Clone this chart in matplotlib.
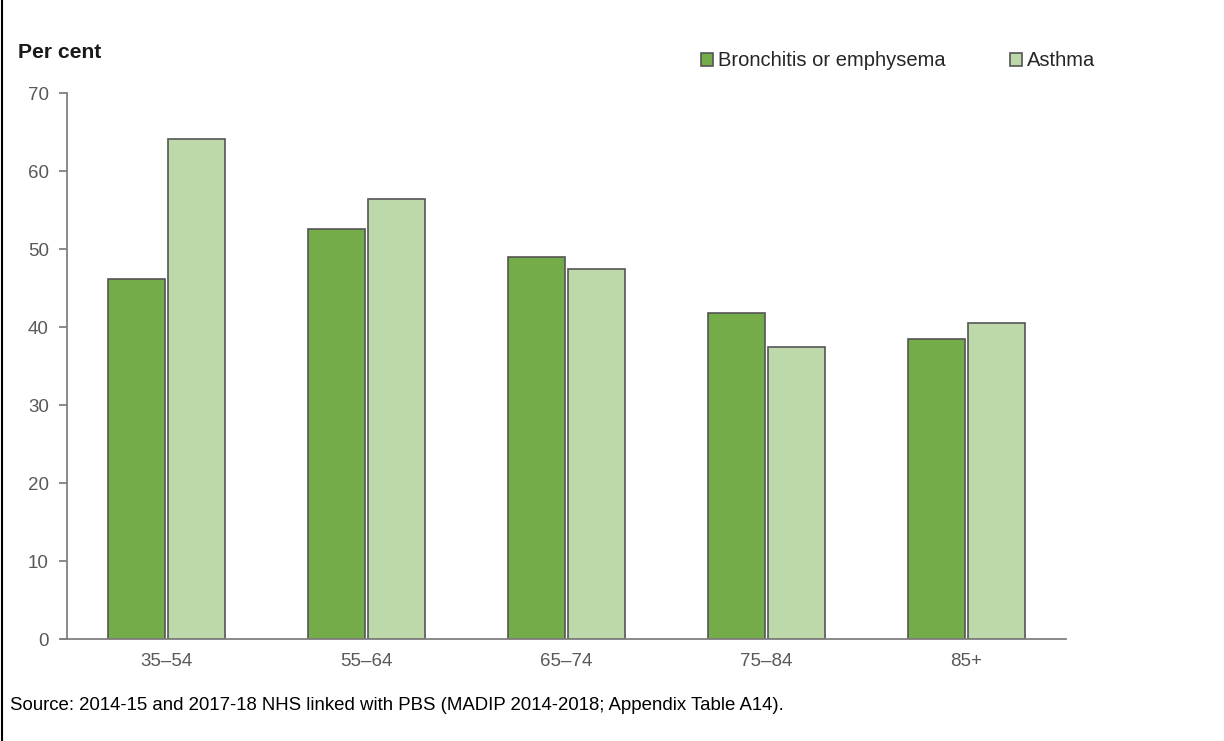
import matplotlib
matplotlib.use("Agg")
import matplotlib.pyplot as plt
from matplotlib.lines import Line2D
import numpy as np

plt.rcParams['font.family'] = ['Liberation Sans', 'DejaVu Sans']

categories = ["35–54", "55–64", "65–74", "75–84", "85+"]
series_names = ["Bronchitis or emphysema", "Asthma"]
bronchitis = [46.2, 52.6, 49.0, 41.8, 38.5]
asthma = [64.1, 56.4, 47.4, 37.4, 40.5]
yticks = [0, 10, 20, 30, 40, 50, 60, 70]
source_text = "Source: 2014-15 and 2017-18 NHS linked with PBS (MADIP 2014-2018; Appendix Table A14)."

dark = "#74AC4A"
light = "#BDD9A9"
edge = "#555555"
tick_color = "#595959"

fig = plt.figure(figsize=(12.24, 7.41), dpi=100)
ax = fig.add_axes([67/1224, 1-639/741, (1066-67)/1224, (639-93)/741])

x = np.arange(len(categories))
w = 0.285
gap = 0.008
ax.bar(x - w/2 - gap, bronchitis, width=w, color=dark, edgecolor=edge, linewidth=1.2, label=series_names[0])
ax.bar(x + w/2 + gap, asthma, width=w, color=light, edgecolor=edge, linewidth=1.2, label=series_names[1])

ax.set_xlim(-0.5, len(categories) - 0.5)
ax.set_ylim(0, 70)
ax.set_yticks(yticks)
ax.set_xticks(x)
ax.set_xticklabels(categories)

for s in ["top", "right"]:
    ax.spines[s].set_visible(False)
for s in ["left", "bottom"]:
    ax.spines[s].set_color("#808080")
    ax.spines[s].set_linewidth(1.3)
ax.tick_params(axis="y", length=6, width=1.3, color="#808080", labelcolor=tick_color, labelsize=13.5, pad=7)
ax.tick_params(axis="x", length=0, labelcolor=tick_color, labelsize=13.5, pad=10)
# extend x-axis line to the left like the original
ax.plot([-6/999, 0], [0, 0], transform=ax.transAxes, color="#808080", lw=1.3, clip_on=False)

fig.text(18/1224, 1-52/741, "Per cent", fontsize=15.2, fontweight="bold", va="center", ha="left", color="#1a1a1a")

leg = fig.legend(loc="center left", bbox_to_anchor=(701/1224, 1-61/741), ncol=2, frameon=False,
                 fontsize=14.5, handlelength=0.6, handleheight=0.6, handletextpad=0.25,
                 columnspacing=3.2, borderaxespad=0, borderpad=0)
for t in leg.get_texts():
    t.set_color("#262626")

fig.text(10/1224, 1-705/741, source_text, fontsize=13.4, va="center", ha="left", color="black")

fig.add_artist(Line2D([1.5/1224, 1.5/1224], [0, 1], transform=fig.transFigure, color="black", lw=1.5))

fig.savefig("out.png", dpi=100, facecolor="white")
